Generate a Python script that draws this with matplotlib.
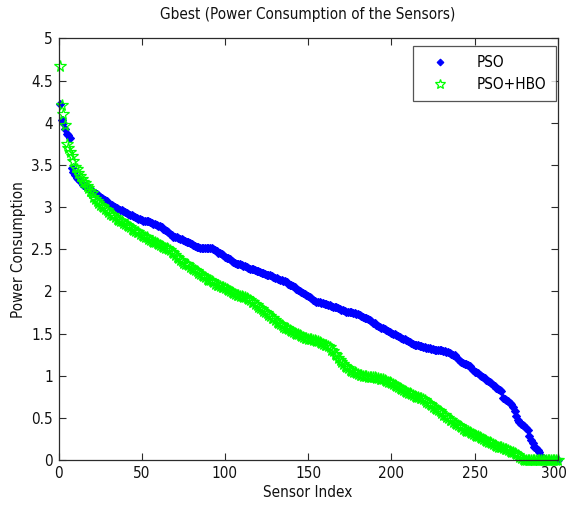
import matplotlib
matplotlib.use("Agg")
import matplotlib.pyplot as plt
from matplotlib import font_manager
from matplotlib.transforms import ScaledTranslation

# ---- data ----
pso = [
    4.22, 4.03, 4.00, 3.93, 3.87, 3.85, 3.82, 3.46, 3.41, 3.38,
    3.35, 3.33, 3.31, 3.28, 3.26, 3.25, 3.24, 3.22, 3.21, 3.19,
    3.18, 3.17, 3.15, 3.14, 3.12, 3.11, 3.10, 3.08, 3.07, 3.05,
    3.03, 3.02, 3.01, 3.00, 2.99, 2.98, 2.97, 2.96, 2.95, 2.94,
    2.93, 2.92, 2.91, 2.90, 2.89, 2.88, 2.87, 2.86, 2.86, 2.85,
    2.84, 2.84, 2.83, 2.83, 2.82, 2.81, 2.80, 2.80, 2.79, 2.78,
    2.77, 2.76, 2.74, 2.73, 2.72, 2.70, 2.68, 2.67, 2.65, 2.64,
    2.64, 2.63, 2.62, 2.62, 2.61, 2.60, 2.59, 2.58, 2.57, 2.56,
    2.55, 2.54, 2.53, 2.53, 2.52, 2.52, 2.52, 2.51, 2.51, 2.52,
    2.51, 2.51, 2.50, 2.49, 2.48, 2.46, 2.45, 2.44, 2.43, 2.41,
    2.40, 2.39, 2.38, 2.36, 2.35, 2.34, 2.33, 2.33, 2.32, 2.31,
    2.30, 2.30, 2.29, 2.28, 2.27, 2.26, 2.26, 2.25, 2.24, 2.24,
    2.23, 2.22, 2.22, 2.21, 2.20, 2.20, 2.19, 2.18, 2.17, 2.16,
    2.16, 2.15, 2.14, 2.13, 2.12, 2.12, 2.11, 2.09, 2.08, 2.07,
    2.06, 2.05, 2.03, 2.02, 2.00, 1.99, 1.98, 1.97, 1.96, 1.95,
    1.93, 1.92, 1.90, 1.89, 1.88, 1.87, 1.87, 1.86, 1.86, 1.85,
    1.85, 1.84, 1.84, 1.83, 1.82, 1.81, 1.81, 1.80, 1.79, 1.78,
    1.78, 1.77, 1.76, 1.76, 1.75, 1.75, 1.74, 1.74, 1.73, 1.73,
    1.72, 1.71, 1.70, 1.69, 1.68, 1.67, 1.66, 1.65, 1.63, 1.62,
    1.60, 1.59, 1.58, 1.57, 1.56, 1.55, 1.54, 1.53, 1.52, 1.51,
    1.50, 1.49, 1.48, 1.47, 1.46, 1.45, 1.44, 1.43, 1.42, 1.41,
    1.40, 1.39, 1.38, 1.37, 1.37, 1.36, 1.35, 1.35, 1.34, 1.34,
    1.33, 1.33, 1.33, 1.32, 1.32, 1.31, 1.31, 1.31, 1.30, 1.30,
    1.29, 1.29, 1.28, 1.28, 1.27, 1.26, 1.25, 1.24, 1.22, 1.20,
    1.17, 1.16, 1.15, 1.14, 1.14, 1.13, 1.11, 1.09, 1.07, 1.05,
    1.04, 1.03, 1.01, 1.00, 0.98, 0.97, 0.95, 0.94, 0.92, 0.91,
    0.89, 0.88, 0.86, 0.84, 0.83, 0.82, 0.73, 0.72, 0.71, 0.70,
    0.68, 0.67, 0.63, 0.58, 0.52, 0.47, 0.45, 0.43, 0.42, 0.40,
    0.38, 0.36, 0.28, 0.24, 0.20, 0.16, 0.14, 0.12, 0.09, 0.05,
    0.03, 0.01, 0.00, 0.00, 0.00, 0.00, 0.00, 0.00, 0.00, 0.00,
]

pso_hbo = [
    4.67, 4.21, 4.10, 3.97, 3.75, 3.70, 3.65, 3.60, 3.55, 3.48,
    3.45, 3.40, 3.37, 3.33, 3.30, 3.28, 3.25, 3.22, 3.19, 3.17,
    3.12, 3.10, 3.07, 3.05, 3.03, 3.01, 3.00, 2.98, 2.96, 2.94,
    2.92, 2.91, 2.90, 2.88, 2.86, 2.85, 2.84, 2.83, 2.81, 2.80,
    2.79, 2.77, 2.76, 2.74, 2.73, 2.72, 2.71, 2.70, 2.68, 2.67,
    2.66, 2.65, 2.64, 2.62, 2.61, 2.60, 2.59, 2.58, 2.57, 2.56,
    2.55, 2.54, 2.53, 2.52, 2.51, 2.50, 2.49, 2.47, 2.45, 2.43,
    2.41, 2.39, 2.37, 2.36, 2.34, 2.33, 2.32, 2.31, 2.29, 2.28,
    2.27, 2.25, 2.24, 2.22, 2.21, 2.20, 2.18, 2.17, 2.15, 2.14,
    2.13, 2.12, 2.11, 2.09, 2.08, 2.07, 2.06, 2.05, 2.05, 2.04,
    2.03, 2.02, 2.01, 1.99, 1.98, 1.97, 1.96, 1.96, 1.95, 1.94,
    1.93, 1.93, 1.92, 1.91, 1.90, 1.88, 1.87, 1.85, 1.84, 1.82,
    1.80, 1.79, 1.77, 1.76, 1.74, 1.72, 1.71, 1.69, 1.68, 1.66,
    1.64, 1.63, 1.61, 1.60, 1.58, 1.57, 1.56, 1.55, 1.54, 1.53,
    1.52, 1.51, 1.50, 1.49, 1.48, 1.47, 1.46, 1.45, 1.45, 1.44,
    1.43, 1.43, 1.42, 1.42, 1.41, 1.41, 1.40, 1.39, 1.38, 1.37,
    1.36, 1.35, 1.34, 1.31, 1.29, 1.26, 1.24, 1.21, 1.19, 1.16,
    1.14, 1.12, 1.10, 1.09, 1.07, 1.06, 1.05, 1.04, 1.03, 1.02,
    1.01, 1.01, 1.00, 1.00, 1.00, 0.99, 0.99, 0.98, 0.98, 0.98,
    0.97, 0.97, 0.96, 0.96, 0.96, 0.95, 0.94, 0.93, 0.92, 0.91,
    0.90, 0.89, 0.88, 0.87, 0.85, 0.84, 0.83, 0.82, 0.81, 0.80,
    0.79, 0.78, 0.77, 0.76, 0.75, 0.75, 0.74, 0.73, 0.72, 0.71,
    0.69, 0.68, 0.66, 0.65, 0.63, 0.62, 0.60, 0.59, 0.58, 0.56,
    0.54, 0.53, 0.51, 0.50, 0.48, 0.47, 0.45, 0.44, 0.43, 0.41,
    0.40, 0.39, 0.37, 0.36, 0.35, 0.34, 0.33, 0.32, 0.31, 0.30,
    0.29, 0.28, 0.27, 0.26, 0.25, 0.24, 0.23, 0.22, 0.21, 0.20,
    0.19, 0.18, 0.17, 0.16, 0.16, 0.15, 0.14, 0.13, 0.13, 0.12,
    0.11, 0.10, 0.09, 0.08, 0.07, 0.06, 0.04, 0.03, 0.01, 0.00,
    0.00, 0.00, 0.00, 0.00, 0.00, 0.00, 0.00, 0.00, 0.00, 0.00,
    0.00, 0.00, 0.00, 0.00, 0.00, 0.00, 0.00, 0.00, 0.00, 0.00,
]

sensor_index = list(range(1, len(pso) + 1))
series_labels = ["PSO", "PSO+HBO"]
x_ticks = [0, 50, 100, 150, 200, 250, 300]
y_ticks = [0, 0.5, 1, 1.5, 2, 2.5, 3, 3.5, 4, 4.5, 5]
y_tick_labels = ["0", "0.5", "1", "1.5", "2", "2.5", "3", "3.5", "4", "4.5", "5"]

# ---- style: prefer a condensed sans face if one is installed ----
fam, stretch = "Liberation Sans", "normal"
for f in font_manager.fontManager.ttflist:
    nm = f.name
    st = str(f.stretch)
    if ("Narrow" in nm or "Condensed" in nm) and f.weight in (400, "normal", "regular"):
        fam, stretch = nm, "normal"
        break
    if st in ("condensed", "semi-condensed") and nm in ("DejaVu Sans", "Liberation Sans", "Noto Sans", "Open Sans", "Roboto") \
            and f.weight in (400, "normal", "regular") and f.style == "normal":
        fam, stretch = nm, st
        break
plt.rcParams["font.family"] = [fam, "DejaVu Sans"]
plt.rcParams["font.stretch"] = stretch
condensed = fam != "Liberation Sans" or stretch != "normal"
fs = 11 if condensed else 10.2
axis_col = "#2b2b2b"

fig = plt.figure(figsize=(5.68, 5.05), dpi=100)
ax = fig.add_axes([0.103, 0.089, 0.879, 0.835])

ax.plot(sensor_index, pso, linestyle="none", marker="D", markersize=4.0,
        color=(0, 0, 1), markeredgewidth=0.8, label=series_labels[0], clip_on=False)
ax.plot(sensor_index, pso_hbo, linestyle="none", marker="*", markersize=8.5,
        markerfacecolor="none", markeredgecolor=(0, 1, 0), markeredgewidth=0.9,
        color=(0, 1, 0), label=series_labels[1], clip_on=False)

ax.set_xlim(0, 300)
ax.set_ylim(0, 5)
ax.set_xticks(x_ticks)
ax.set_yticks(y_ticks)
ax.set_yticklabels(y_tick_labels)
ax.tick_params(direction="in", length=5, width=0.8, colors=axis_col,
               labelcolor="#111111", labelsize=fs, top=True, right=True, pad=4)
for s in ax.spines.values():
    s.set_color(axis_col)
    s.set_linewidth(0.9)

# keep the last x tick label inside the canvas (nudged a few pixels left)
last_lbl = ax.get_xticklabels()[-1]
last_lbl.set_transform(last_lbl.get_transform() + ScaledTranslation(-3 / 72, 0, fig.dpi_scale_trans))

ax.set_title("Gbest (Power Consumption of the Sensors)", fontsize=fs, pad=14, color="#111111")
ax.set_xlabel("Sensor Index", fontsize=fs, labelpad=3, color="#111111")
ax.set_ylabel("Power Consumption", fontsize=fs, labelpad=4, color="#111111")

leg = ax.legend(loc="upper right", bbox_to_anchor=(0.996, 0.982), borderaxespad=0,
                fancybox=False, edgecolor=axis_col, fontsize=fs, handletextpad=1.2,
                borderpad=0.6, labelspacing=0.45, handlelength=2.4, markerscale=0.85)
leg.get_frame().set_linewidth(0.9)

fig.savefig("out.png", dpi=100, facecolor="white")
